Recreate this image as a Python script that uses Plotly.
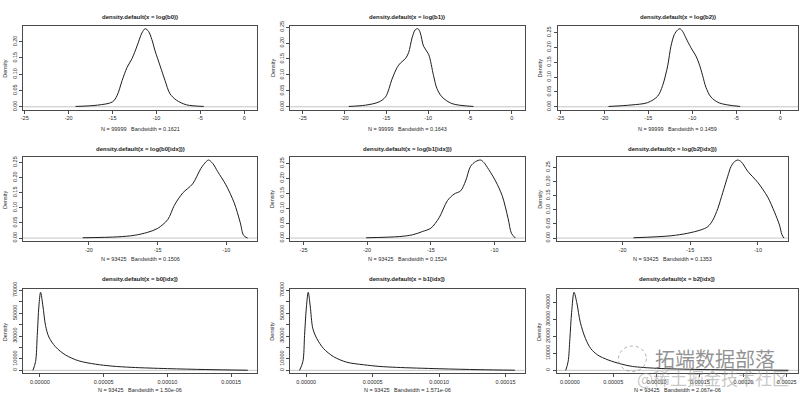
import plotly.graph_objects as go

# ---------------- data ----------------
titles = [
    "density.default(x = log(b0))", "density.default(x = log(b1))", "density.default(x = log(b2))",
    "density.default(x = log(b0[idx]))", "density.default(x = log(b1[idx]))", "density.default(x = log(b2[idx]))",
    "density.default(x = b0[idx])", "density.default(x = b1[idx])", "density.default(x = b2[idx])",
]
subtitles = [
    "N = 99999   Bandwidth = 0.1621", "N = 99999   Bandwidth = 0.1643", "N = 99999   Bandwidth = 0.1459",
    "N = 93425   Bandwidth = 0.1506", "N = 93425   Bandwidth = 0.1524", "N = 93425   Bandwidth = 0.1353",
    "N = 93425   Bandwidth = 1.50e-06", "N = 93425   Bandwidth = 1.571e-06", "N = 93425   Bandwidth = 2.067e-06",
]

lb0_x = [-19.2, -16.7, -15.0, -14.47, -13.9, -13.34, -12.78, -12.2, -11.65, -11.28, -10.9, -10.52, -10.15, -9.58, -9.02, -8.45, -7.7, -6.57, -4.6]
lb0_y = [0.001, 0.005, 0.015, 0.035, 0.081, 0.121, 0.148, 0.187, 0.227, 0.240, 0.232, 0.207, 0.172, 0.126, 0.081, 0.040, 0.020, 0.006, 0.001]

lb1_x = [-19.5, -17.5, -15.9, -15.1, -14.32, -13.72, -13.33, -12.73, -12.34, -11.93, -11.54, -11.22, -10.94, -10.55, -9.95, -9.36, -8.95, -8.35, -7.16, -4.58]
lb1_y = [0.001, 0.005, 0.015, 0.031, 0.087, 0.123, 0.137, 0.151, 0.170, 0.216, 0.242, 0.245, 0.232, 0.190, 0.165, 0.098, 0.057, 0.031, 0.010, 0.001]

lb2_x = [-19.52, -16.96, -15.07, -13.93, -13.37, -12.8, -12.43, -12.05, -11.67, -11.41, -11.1, -10.73, -10.16, -9.59, -9.22, -8.83, -8.46, -7.89, -6.95, -4.57]
lb2_y = [0.001, 0.006, 0.014, 0.036, 0.072, 0.138, 0.204, 0.243, 0.259, 0.263, 0.254, 0.232, 0.199, 0.171, 0.144, 0.105, 0.066, 0.033, 0.013, 0.001]

lb0i_x = [-20.45, -17.9, -16.7, -15.73, -15.0, -14.27, -13.79, -13.18, -12.46, -11.86, -11.49, -11.3, -11.0, -10.64, -10.04, -9.44, -9.0, -8.75, -8.46]
lb0i_y = [0.001, 0.004, 0.009, 0.019, 0.032, 0.061, 0.108, 0.149, 0.179, 0.230, 0.252, 0.258, 0.247, 0.220, 0.176, 0.117, 0.052, 0.009, 0.0]

lb1i_x = [-20.08, -17.48, -16.43, -15.65, -15.0, -14.35, -13.7, -13.18, -12.66, -12.27, -11.88, -11.48, -11.09, -10.84, -10.45, -9.92, -9.4, -8.93, -8.67, -8.36]
lb1i_y = [0.001, 0.005, 0.011, 0.022, 0.033, 0.068, 0.125, 0.147, 0.158, 0.191, 0.240, 0.256, 0.261, 0.253, 0.229, 0.191, 0.142, 0.065, 0.016, 0.0]

lb2i_x = [-19.19, -16.43, -15.19, -14.21, -13.71, -13.34, -12.97, -12.6, -12.23, -11.99, -11.74, -11.49, -11.24, -10.75, -10.0, -9.27, -8.78, -8.41, -8.23, -8.08]
lb2i_y = [0.001, 0.008, 0.017, 0.029, 0.040, 0.063, 0.104, 0.161, 0.219, 0.253, 0.270, 0.276, 0.270, 0.236, 0.196, 0.144, 0.092, 0.046, 0.012, 0.0]

b0i_x = [-5.47e-6, -3.39e-6, -2.08e-6, -0.78e-6, 0.52e-6, 2.34e-6, 4.43e-6, 7.03e-6, 12.2e-6, 20.1e-6, 30.5e-6, 43.5e-6, 56.5e-6, 72.1e-6, 100e-6, 130e-6, 163e-6]
b0i_y = [0, 7700, 30600, 56300, 68200, 56300, 39100, 29100, 20600, 13400, 8300, 5400, 3700, 2600, 1500, 700, 100]

b1i_x = [-5e-6, -2.5e-6, -1.25e-6, 0, 1.5e-6, 3e-6, 5e-6, 8e-6, 13e-6, 20.5e-6, 30.5e-6, 43e-6, 55.5e-6, 68e-6, 100e-6, 130e-6, 157e-6]
b1i_y = [0, 7700, 30600, 53400, 68200, 56300, 36300, 27700, 19100, 12000, 7100, 4900, 3400, 2600, 1400, 600, 100]

b2i_x = [-4.8e-6, -2e-6, 0, 2e-6, 4.8e-6, 8e-6, 12e-6, 18e-6, 24e-6, 32e-6, 44e-6, 60e-6, 72e-6, 100e-6, 150e-6, 200e-6, 252e-6]
b2i_y = [0, 5200, 18600, 33900, 45700, 39600, 28100, 18600, 12800, 9000, 6100, 3600, 2300, 1200, 500, 200, 50]

# tick labels
log_xticks = [-25, -20, -15, -10, -5, 0]
log_xticktext = ["-25", "-20", "-15", "-10", "-5", "0"]
dens_yticks = [0, 0.05, 0.10, 0.15, 0.20, 0.25]
dens_yticktext = ["0.00", "0.05", "0.10", "0.15", "0.20", "0.25"]
raw_xticks = [0, 5e-5, 1e-4, 1.5e-4, 2e-4, 2.5e-4]
raw_xticktext = ["0.00000", "0.00005", "0.00010", "0.00015", "0.00020", "0.00025"]
raw_yticks_a = [0, 10000, 20000, 30000, 40000, 50000, 60000, 70000]
raw_yticktext_a = ["0", "10000", "", "30000", "", "50000", "", "70000"]
raw_yticks_b = [0, 10000, 20000, 30000, 40000]
raw_yticktext_b = ["0", "10000", "20000", "30000", "40000"]

series = [(lb0_x, lb0_y), (lb1_x, lb1_y), (lb2_x, lb2_y),
          (lb0i_x, lb0i_y), (lb1i_x, lb1i_y), (lb2i_x, lb2i_y),
          (b0i_x, b0i_y), (b1i_x, b1i_y), (b2i_x, b2i_y)]

# ---------------- layout (pixel geometry) ----------------
W, H = 800, 397
boxes = [  # x0, x1, y0(top), y1(bottom) in pixels
    (21, 256, 19, 105), (289, 524, 19, 105), (557, 798, 19, 105),
    (21, 256, 153, 239), (289, 524, 153, 239), (556, 788, 153, 239),
    (21, 256, 288, 374), (289, 524, 288, 374), (556, 798, 288, 374),
]
xranges = [[-25.2, 1.5], [-26.5, 1.55], [-25.3, 2.0],
           [-24.8, -7.75], [-26.04, -7.63], [-24.87, -7.78],
           [-1.33e-5, 1.705e-4], [-1.2e-5, 1.644e-4], [-1.53e-5, 2.63e-4]]
title_y = [10, 145, 278]
sub_y = [124, 257, 391]
dens_x = [3, 271, 539]

FONT = "Liberation Sans, Arial, Helvetica, sans-serif"
TXT = "#2a2a2a"
LINE = "#4a4a4a"

fig = go.Figure()
layout = dict(width=W, height=H, margin=dict(l=0, r=0, t=0, b=0, pad=0),
              paper_bgcolor="white", plot_bgcolor="white", showlegend=False,
              font=dict(family=FONT, color=TXT))
annotations = []
shapes = []

for i, (xs, ys) in enumerate(series):
    n = i + 1
    sfx = "" if n == 1 else str(n)
    xa, ya = "x" + sfx, "y" + sfx
    x0, x1, yt, yb = boxes[i]
    peak = max(ys)
    yr = [-0.04 * peak, 1.04 * peak]
    fig.add_trace(go.Scatter(x=xs, y=ys, mode="lines", xaxis=xa, yaxis=ya,
                             line=dict(color="#1e1e1e", width=1, shape="spline", smoothing=0.9),
                             hoverinfo="skip"))
    if i < 6:
        xt, xtt = log_xticks, log_xticktext
        yt_, ytt = dens_yticks, dens_yticktext
    else:
        xt, xtt = raw_xticks, raw_xticktext
        if i == 8:
            yt_, ytt = raw_yticks_b, raw_yticktext_b
        else:
            yt_, ytt = raw_yticks_a, raw_yticktext_a
    common = dict(showline=True, mirror=True, linecolor=LINE, linewidth=1,
                  ticks="outside", ticklen=3, tickwidth=1, tickcolor=LINE,
                  showgrid=False, zeroline=False, fixedrange=True,
                  tickfont=dict(size=5.5, color=TXT, family=FONT))
    layout["xaxis" + sfx] = dict(domain=[x0 / W, x1 / W], range=xranges[i], anchor=ya,
                                 tickmode="array", tickvals=xt, ticktext=xtt, **common)
    layout["yaxis" + sfx] = dict(domain=[1 - yb / H, 1 - yt / H], range=yr, anchor=xa,
                                 tickmode="array", tickvals=yt_, ticktext=ytt, tickangle=-90, **common)
    shapes.append(dict(type="line", xref=xa + " domain", x0=0, x1=1, yref=ya, y0=0, y1=0,
                       line=dict(color="#c4c4c4", width=1), layer="below"))
    row, col = i // 3, i % 3
    cx = (x0 + x1) / 2
    annotations.append(dict(text="<b>" + titles[i] + "</b>", x=cx / W, y=1 - title_y[row] / H,
                            xref="paper", yref="paper", showarrow=False, xanchor="center", yanchor="middle",
                            font=dict(size=6, color="#1a1a1a", family=FONT)))
    annotations.append(dict(text=subtitles[i].replace("   ", "\u00a0\u00a0\u00a0"), x=cx / W, y=1 - sub_y[row] / H,
                            xref="paper", yref="paper", showarrow=False, xanchor="center", yanchor="middle",
                            font=dict(size=5.5, color=TXT, family=FONT)))
    annotations.append(dict(text="Density", x=dens_x[col] / W, y=1 - ((yt + yb) / 2) / H,
                            xref="paper", yref="paper", showarrow=False, xanchor="center", yanchor="middle",
                            textangle=-90, font=dict(size=5.5, color=TXT, family=FONT)))

# watermark
annotations.append(dict(text="拓端数据部落", x=715 / W, y=1 - 359 / H, xref="paper", yref="paper",
                        showarrow=False, xanchor="center", yanchor="middle",
                        font=dict(size=20, color="rgba(110,110,110,0.75)", family="Noto Sans CJK SC")))
annotations.append(dict(text="@稀土掘金技术社区", x=713 / W, y=1 - 378 / H, xref="paper", yref="paper",
                        showarrow=False, xanchor="center", yanchor="middle",
                        font=dict(size=17, color="rgba(150,150,150,0.55)", family="Noto Sans CJK SC")))
shapes.append(dict(type="circle", xref="paper", yref="paper", x0=618 / W, x1=646 / W,
                   y0=1 - 372 / H, y1=1 - 346 / H,
                   line=dict(color="rgba(120,120,120,0.6)", width=1, dash="dot")))

layout["annotations"] = annotations
layout["shapes"] = shapes
fig.update_layout(**layout)
fig.write_html("out.html", config={"displayModeBar": False},
               post_script="document.body.style.margin='0';document.body.style.padding='0';"
                           "document.documentElement.style.overflow='hidden';")
